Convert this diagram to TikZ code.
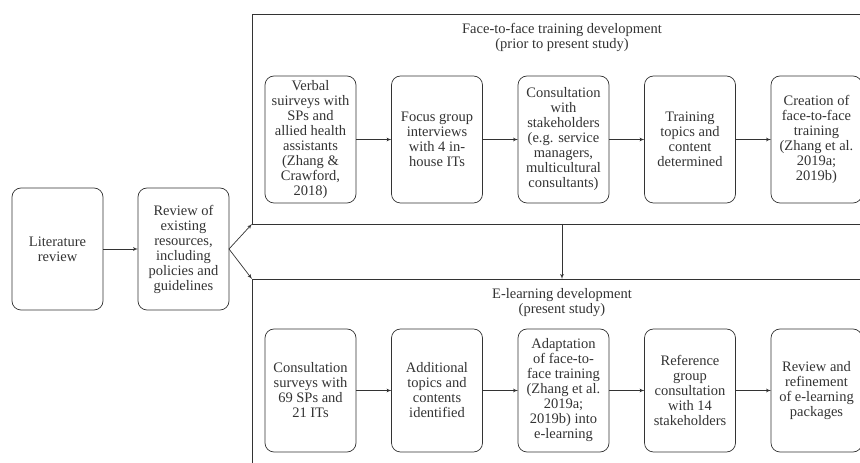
\documentclass[tikz,border=0pt]{standalone}
\usepackage{fontspec}
\setmainfont{Liberation Serif}
\usetikzlibrary{shapes,arrows}
\usetikzlibrary{positioning}
\tikzset{>=latex', x=1pt, y=1pt, node distance=35.5pt, font=\fontsize{14.5}{15}\selectfont}
\tikzstyle{block} = [draw, rounded corners=9pt, rectangle, minimum height=127pt, minimum width=91pt, inner sep=1pt, outer sep=0pt, text centered, align=center]
\tikzstyle{lowblock} = [block, minimum height=123pt]
\tikzstyle{sideblock} = [block, minimum height=122pt]
\tikzstyle{stage} = [draw, rectangle, minimum width=620pt, inner sep=0pt, outer sep=0pt]
\tikzstyle{heading} = [align=center, inner sep=0pt]

\begin{document}
\begin{tikzpicture}[line width=0.7pt, color=black!80]
    \useasboundingbox (0,0) rectangle (860,463);
    \clip (0,0) rectangle (860,463);
    % the two stages
    \node [stage, minimum height=210pt] (ftf) at (562,344) {};
    \node [stage, minimum height=201pt] (elearn) at (562,83.5) {};
    \node [heading, below=9pt of ftf.north] (ftftitle) {Face-to-face training development\\(prior to present study)};
    \node [heading, below=9pt of elearn.north] (elearntitle) {E-learning development\\(present study)};

    \node [sideblock] (lit) at (57.5,214) {Literature\\review};
    \node [sideblock, right=35pt of lit] (review) {Review of\\existing\\resources,\\including\\policies and\\guidelines};

    % face-to-face
    \node [block] (verbal) at (310.5,323.5) {Verbal\\suirveys with\\SPs and\\allied health\\assistants\\(Zhang \&\\Crawford,\\2018)};
    \node [block, right=of verbal] (focus) {Focus group\\interviews\\with 4 in-\\house ITs};
    \node [block, right=of focus] (consult) {Consultation\\with\\stakeholders\\(e.g. service\\managers,\\multicultural\\consultants)};
    \node [block, right=of consult] (topics) {Training\\topics and\\content\\determined};
    \node [block, right=of topics] (create) {Creation of\\face-to-face\\training\\(Zhang et al.\\2019a;\\2019b)};

    % e-learning
    \node [lowblock] (survey) at (310.5,72.5) {Consultation\\surveys with\\69 SPs and\\21 ITs};
    \node [lowblock, right=of survey] (additional) {Additional\\topics and\\contents\\identified};
    \node [lowblock, right=of additional] (adapt) {Adaptation\\of face-to-\\face training\\(Zhang et al.\\2019a;\\2019b) into\\e-learning};
    \node [lowblock, right=of adapt] (refgroup) {Reference\\group\\consultation\\with 14\\stakeholders};
    \node [lowblock, right=of refgroup] (refine) {Review and\\refinement\\of e-learning\\packages};

    \draw [->] (lit) -- (review);
    \draw [->] (review.east) -- (ftf.south west);
    \draw [->] (review.east) -- (elearn.north west);
    \draw [->] (ftf.south) -- (elearn.north);

    \draw [->] (verbal) -- (focus);
    \draw [->] (focus) -- (consult);
    \draw [->] (consult) -- (topics);
    \draw [->] (topics) -- (create);

    \draw [->] (survey) -- (additional);
    \draw [->] (additional) -- (adapt);
    \draw [->] (adapt) -- (refgroup);
    \draw [->] (refgroup) -- (refine);
\end{tikzpicture}
\end{document}
